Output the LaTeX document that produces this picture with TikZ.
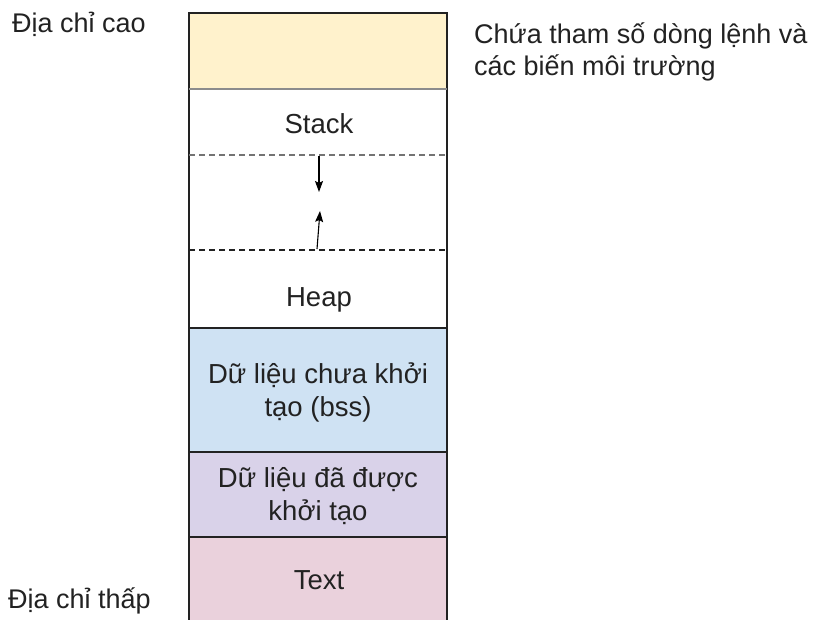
\documentclass[tikz,border=0pt]{standalone}
\usepackage{fontspec}
\setmainfont{Liberation Sans}
\usetikzlibrary{arrows.meta}
\definecolor{envc}{HTML}{FFF2CC}
\definecolor{bssc}{HTML}{CFE2F3}
\definecolor{datac}{HTML}{D9D2E9}
\definecolor{textc}{HTML}{EAD1DC}
\definecolor{ink}{HTML}{222222}
\tikzset{
  seg/.style={rectangle, draw=none, minimum width=258pt, inner sep=0pt, outer sep=0pt, anchor=north},
  lbl/.style={font=\fontsize{27.5}{33}\selectfont, text=ink, inner sep=0pt, anchor=base},
  side/.style={font=\fontsize{27}{32}\selectfont, text=ink, inner sep=0pt, anchor=base west, align=left},
  solidline/.style={draw=ink, line width=1.3pt},
  softline/.style={draw=black!45, line width=1.3pt},
  dashline/.style={draw=ink, line width=1.3pt, dash pattern=on 6pt off 4pt},
  dashgrey/.style={draw=black!55, line width=1.3pt, dash pattern=on 6pt off 4pt},
  growarrow/.style={draw=black, line width=1.1pt, -{Stealth[length=11pt,width=8pt,inset=2pt]}}
}
\begin{document}
\begin{tikzpicture}[x=1pt,y=-1pt]
\useasboundingbox (0,0) rectangle (816,619);
\clip (0,0) rectangle (816,619);
% segments
\node[seg, fill=envc, minimum height=76pt] (env) at (318,13) {};
\node[seg, fill=white, minimum height=66pt] (stack) at (318,89) {};
\node[seg, fill=white, minimum height=95pt] (gap) at (318,155) {};
\node[seg, fill=white, minimum height=78pt] (heap) at (318,250) {};
\node[seg, fill=bssc, minimum height=124pt] (bss) at (318,328) {};
\node[seg, fill=datac, minimum height=85pt] (data) at (318,452) {};
\node[seg, fill=textc, minimum height=100pt] (txt) at (318,537) {};
% borders
\draw[solidline] (txt.south west) -- (env.north west) -- (env.north east) -- (txt.south east);
\draw[softline] (stack.north west) -- (stack.north east);
\draw[dashgrey] (gap.north west) -- (gap.north east);
\draw[dashline] (gap.south west) -- (gap.south east);
\draw[solidline] (bss.north west) -- (bss.north east);
\draw[solidline] (data.north west) -- (data.north east);
\draw[solidline] (txt.north west) -- (txt.north east);
% growth arrows
\coordinate (downS) at (319,156);
\coordinate (downE) at (319,192);
\coordinate (upS) at (317,249);
\coordinate (upE) at (320,211);
\draw[growarrow] (downS) -- (downE);
\draw[growarrow] (upS) -- (upE);
% labels
\node[lbl] (tstack) at (319,133) {Stack};
\node[lbl] (theap) at (319,306) {Heap};
\node[lbl, align=center] (tbss) at (318,416) {Dữ liệu chưa khởi\\tạo (bss)};
\node[lbl, align=center] (tdata) at (318,520) {Dữ liệu đã được\\khởi tạo};
\node[lbl] (ttext) at (319,589) {Text};
\node[side] (hi) at (12,32) {Địa chỉ cao};
\node[side] (lo) at (8,608) {Địa chỉ thấp};
\node[side] (envnote) at (474,75) {Chứa tham số dòng lệnh và\\các biến môi trường};
\end{tikzpicture}
\end{document}
